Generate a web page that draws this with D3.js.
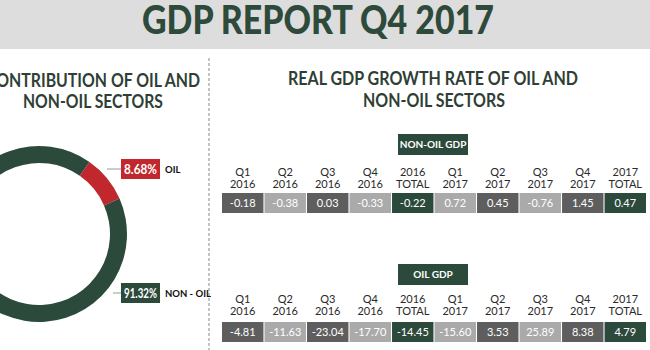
<!DOCTYPE html>
<html>
<head>
<meta charset="utf-8">
<script src="https://cdn.jsdelivr.net/npm/d3@7"></script>
<style>
  body { margin: 0; background: #fff; }
  text { font-family: Lato, "Open Sans", sans-serif; }
</style>
</head>
<body>
<div id="chart"></div>
<script>
// Data
const sectors = ["OIL", "NON - OIL"];
const shareValues = [8.68, 91.32];
const headerTop = ["Q1", "Q2", "Q3", "Q4", "2016", "Q1", "Q2", "Q3", "Q4", "2017"];
const headerBottom = ["2016", "2016", "2016", "2016", "TOTAL", "2017", "2017", "2017", "2017", "TOTAL"];
const nonOilGrowth = [-0.18, -0.38, 0.03, -0.33, -0.22, 0.72, 0.45, -0.76, 1.45, 0.47];
const oilGrowth = [-4.81, -11.63, -23.04, -17.70, -14.45, -15.60, 3.53, 25.89, 8.38, 4.79];

const width = 650, height = 350;
const green = "#2c4a3b", red = "#c0282d";
const darkGrey = "#5e5e5e", lightGrey = "#aaaaaa";
const fmt = v => v.toFixed(2);

const svg = d3.select("#chart")
    .append("svg")
    .attr("width", width)
    .attr("height", height);

// Header band
svg.append("rect")
    .attr("x", 0).attr("y", 0)
    .attr("width", width).attr("height", 49)
    .attr("fill", "#dddddd");

svg.append("text")
    .attr("x", 142).attr("y", 34)
    .attr("textLength", 352)
    .attr("lengthAdjust", "spacingAndGlyphs")
    .style("font-size", "40px")
    .style("font-weight", 900)
    .style("fill", "#2d4a3a")
    .text("GDP REPORT Q4 2017");

// Section titles
function title(lines) {
    lines.forEach(l => {
        svg.append("text")
            .attr("x", l.x).attr("y", l.y)
            .attr("textLength", l.w)
            .attr("lengthAdjust", "spacingAndGlyphs")
            .style("font-size", "19px")
            .style("font-weight", 700)
            .style("fill", "#2f3f36")
            .text(l.t);
    });
}
title([
    { t: "CONTRIBUTION OF OIL AND", x: -14, y: 87, w: 214 },
    { t: "NON-OIL SECTORS", x: 23, y: 108, w: 140 }
]);
title([
    { t: "REAL GDP GROWTH RATE OF OIL AND", x: 288, y: 85, w: 290 },
    { t: "NON-OIL SECTORS", x: 363, y: 107, w: 142 }
]);

// Divider
svg.append("line")
    .attr("x1", 209).attr("x2", 209)
    .attr("y1", 58).attr("y2", height)
    .attr("stroke", "#888")
    .attr("stroke-width", 1)
    .attr("stroke-dasharray", "3,2");

// Donut
const cx = 39, cy = 234;
const pie = d3.pie().sort(null)
    .startAngle(35 * Math.PI / 180)
    .endAngle(395 * Math.PI / 180);
const arc = d3.arc().innerRadius(71).outerRadius(88);
const slices = pie(shareValues);

const donut = svg.append("g").attr("transform", `translate(${cx},${cy})`);
donut.selectAll("path")
    .data(slices)
    .enter()
    .append("path")
    .attr("d", arc)
    .attr("fill", (d, i) => i === 0 ? red : green);

// Labels for the donut
const labelY = [169, 293];
const lineStart = [107, 113];
sectors.forEach((s, i) => {
    svg.append("line")
        .attr("x1", lineStart[i]).attr("x2", 121)
        .attr("y1", labelY[i]).attr("y2", labelY[i])
        .attr("stroke", "#999").attr("stroke-width", 1);
    svg.append("rect")
        .attr("x", 121).attr("y", labelY[i] - 10)
        .attr("width", 39).attr("height", 20)
        .attr("fill", i === 0 ? red : green);
    svg.append("text")
        .attr("x", 140.5).attr("y", labelY[i] + 4.5)
        .attr("text-anchor", "middle")
        .attr("textLength", 33)
        .attr("lengthAdjust", "spacingAndGlyphs")
        .style("font-size", "12.5px")
        .style("font-weight", 700)
        .style("fill", "#fff")
        .text(fmt(shareValues[i]) + "%");
    svg.append("text")
        .attr("x", 165).attr("y", labelY[i] + 4)
        .style("font-size", "9.5px")
        .style("font-weight", 700)
        .style("fill", "#111")
        .text(s);
});

// Growth tables
const x = d3.scaleBand()
    .domain(d3.range(headerTop.length))
    .range([222, 646])
    .paddingInner(0.025);

function cellColor(i) {
    if (i % 5 === 4) return green;
    return i % 2 === 0 ? darkGrey : lightGrey;
}

function table(label, values, boxY, headY, cellY) {
    svg.append("rect")
        .attr("x", 398).attr("y", boxY)
        .attr("width", 70).attr("height", 21)
        .attr("fill", green);
    svg.append("text")
        .attr("x", 433).attr("y", boxY + 14)
        .attr("text-anchor", "middle")
        .style("font-size", "10px")
        .style("font-weight", 700)
        .style("fill", "#fff")
        .text(label);

    const g = svg.append("g");
    g.selectAll(".h1")
        .data(headerTop)
        .enter()
        .append("text")
        .attr("x", (d, i) => x(i) + x.bandwidth() / 2)
        .attr("y", headY)
        .attr("text-anchor", "middle")
        .style("font-size", "11px")
        .style("fill", "#2a2a2a")
        .text(d => d);
    g.selectAll(".h2")
        .data(headerBottom)
        .enter()
        .append("text")
        .attr("x", (d, i) => x(i) + x.bandwidth() / 2)
        .attr("y", headY + 12)
        .attr("text-anchor", "middle")
        .style("font-size", "11px")
        .style("fill", "#2a2a2a")
        .text(d => d);
    g.selectAll("rect")
        .data(values)
        .enter()
        .append("rect")
        .attr("x", (d, i) => x(i))
        .attr("y", cellY)
        .attr("width", x.bandwidth())
        .attr("height", 20)
        .attr("fill", (d, i) => cellColor(i));
    g.selectAll(".v")
        .data(values)
        .enter()
        .append("text")
        .attr("x", (d, i) => x(i) + x.bandwidth() / 2)
        .attr("y", cellY + 14)
        .attr("text-anchor", "middle")
        .style("font-size", "11px")
        .style("fill", "#fff")
        .text(d => fmt(d));
}

table("NON-OIL GDP", nonOilGrowth, 134, 176, 193);
table("OIL GDP", oilGrowth, 264, 303, 322);
</script>
</body>
</html>
